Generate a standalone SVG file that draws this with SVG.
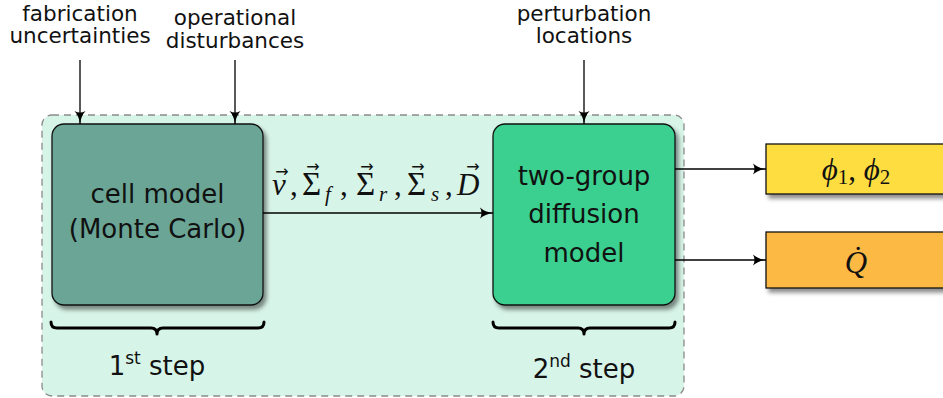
<svg xmlns="http://www.w3.org/2000/svg" width="943" height="398" viewBox="0 0 943 398">
<defs>
<filter id="sh" x="-10%" y="-10%" width="130%" height="130%">
<feDropShadow dx="3" dy="4" stdDeviation="2.2" flood-color="#000" flood-opacity="0.45"/>
</filter>
<marker id="ah" markerUnits="userSpaceOnUse" markerWidth="14" markerHeight="12" viewBox="0 0 14 12" refX="13" refY="6" orient="auto">
<path d="M0,0.5 Q5,5 13,6 Q5,7 0,11.5 Q3,6 0,0.5 Z" fill="#000"/>
</marker>
<style>
.lbl{font-family:"DejaVu Sans",sans-serif;font-size:21.5px;fill:#111;text-anchor:middle}
.box{font-family:"DejaVu Sans",sans-serif;font-size:26px;fill:#111;text-anchor:middle}
.m{font-family:"Liberation Serif","DejaVu Serif",serif;font-size:31px;fill:#111}
.mi{font-style:italic}
.sg{font-size:33px}
.sub{font-size:21px;font-style:italic}
.vec{font-family:"DejaVu Sans",sans-serif;font-size:16px;text-anchor:middle;font-style:normal}
.conn{stroke:#000;stroke-width:1.3;fill:none}
.brace{stroke:#000;stroke-width:3;fill:none;stroke-linecap:round;stroke-linejoin:round}
</style>
</defs>
<rect x="0" y="0" width="943" height="398" fill="#fff"/>

<g id="frame">
<rect x="42" y="115" width="642" height="281" rx="10" fill="#d7f4e8" stroke="#8a8a8a" stroke-width="1.3" stroke-dasharray="7,5"/>
</g>

<g id="lbl-fabrication">
<text class="lbl" x="80" y="21">fabrication</text>
<text class="lbl" x="80" y="43">uncertainties</text>
</g>
<g id="lbl-operational">
<text class="lbl" x="235" y="25">operational</text>
<text class="lbl" x="235" y="48">disturbances</text>
</g>
<g id="lbl-perturbation">
<text class="lbl" x="584" y="21">perturbation</text>
<text class="lbl" x="584" y="43">locations</text>
</g>

<g id="cell-model">
<rect x="52" y="124" width="211" height="181" rx="12" fill="#6ba596" stroke="#111" stroke-width="1.3" filter="url(#sh)"/>
<text class="box" x="157.5" y="203">cell model</text>
<text class="box" x="157.5" y="238">(Monte Carlo)</text>
</g>

<g id="diffusion-model">
<rect x="493" y="124" width="182" height="181" rx="12" fill="#3ad08f" stroke="#111" stroke-width="1.3" filter="url(#sh)"/>
<text class="box" x="584" y="185">two-group</text>
<text class="box" x="584" y="223">diffusion</text>
<text class="box" x="584" y="262">model</text>
</g>

<g id="out-flux">
<rect x="766" y="144" width="200" height="50" fill="#fddd40" stroke="#111" stroke-width="1.3" filter="url(#sh)"/>
<text class="m" x="856" y="180" text-anchor="middle" font-size="32"><tspan class="mi">ϕ</tspan><tspan font-size="21" dy="4">1</tspan><tspan dy="-4">, </tspan><tspan class="mi">ϕ</tspan><tspan font-size="21" dy="4">2</tspan></text>
</g>

<g id="out-power">
<rect x="766" y="232" width="200" height="56" fill="#fcba44" stroke="#111" stroke-width="1.3" filter="url(#sh)"/>
<text class="m mi" x="856" y="273" text-anchor="middle" font-size="32">Q̇</text>
</g>

<g id="brace-1">
<path class="brace" d="M51,322 Q51,328 57,328 L151,328 Q157,328 157,334 Q157,328 163,328 L258,328 Q264,328 264,322"/>
<text class="box" x="157" y="375">1<tspan font-size="17" dy="-11">st</tspan><tspan dy="11"> step</tspan></text>
</g>
<g id="brace-2">
<path class="brace" d="M493,322 Q493,328 499,328 L578,328 Q584,328 584,334 Q584,328 590,328 L669,328 Q675,328 675,322"/>
<text class="box" x="584" y="378">2<tspan font-size="17" dy="-11">nd</tspan><tspan dy="11"> step</tspan></text>
</g>

<g id="connectors">
<line class="conn" x1="80" y1="60" x2="80" y2="124" marker-end="url(#ah)"/>
<line class="conn" x1="235" y1="60" x2="235" y2="124" marker-end="url(#ah)"/>
<line class="conn" x1="584" y1="60" x2="584" y2="124" marker-end="url(#ah)"/>
<line class="conn" x1="263" y1="213" x2="493" y2="213" marker-end="url(#ah)"/>
<line class="conn" x1="675" y1="169" x2="766" y2="169" marker-end="url(#ah)"/>
<line class="conn" x1="675" y1="260" x2="766" y2="260" marker-end="url(#ah)"/>
<g id="edge-label">
<text class="m"><tspan class="mi" x="272" y="195">ν</tspan><tspan x="290" y="195">,</tspan><tspan class="sg" x="302" y="195">Σ</tspan><tspan class="sub" x="325" y="201">f</tspan><tspan x="340" y="195">,</tspan><tspan class="sg" x="356" y="195">Σ</tspan><tspan class="sub" x="379" y="201">r</tspan><tspan x="394" y="195">,</tspan><tspan class="sg" x="407" y="195">Σ</tspan><tspan class="sub" x="431" y="201">s</tspan><tspan x="445" y="195">,</tspan><tspan class="mi" x="457" y="195">D</tspan><tspan class="vec" x="282" y="177">→</tspan><tspan class="vec" x="313" y="172">→</tspan><tspan class="vec" x="367" y="172">→</tspan><tspan class="vec" x="418" y="172">→</tspan><tspan class="vec" x="473" y="172">→</tspan></text>
</g>
</g>
</svg>
